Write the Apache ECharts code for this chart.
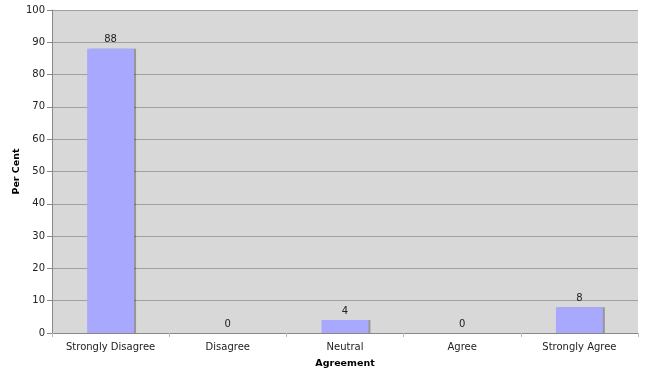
<!DOCTYPE html>
<html><head><meta charset="utf-8">
<script src="https://cdn.jsdelivr.net/npm/echarts@6/dist/echarts.min.js"></script>
<style>html,body{margin:0;padding:0;background:#fff}#c{width:648px;height:373px}</style>
</head><body><div id="c"></div>
<script>
const categories = ["Strongly Disagree", "Disagree", "Neutral", "Agree", "Strongly Agree"];
const values = [88, 0, 4, 0, 8];
const yTicks = { min: 0, max: 100, interval: 10 };
const chart = echarts.init(document.getElementById('c'));
const font = 'DejaVu Sans, Verdana, sans-serif';
chart.setOption({
  animation: false,
  grid: { left: 52, right: 10, top: 10, bottom: 40, backgroundColor: '#d8d8d8', show: true, borderWidth: 0, containLabel: false, outerBoundsMode: 'none' },
  xAxis: {
    type: 'category', data: categories,
    name: 'Agreement', nameLocation: 'middle', nameGap: 26, nameMoveOverlap: false,
    nameTextStyle: { fontFamily: font, fontSize: 9.5, fontWeight: 'bold', color: '#000' },
    axisLine: { lineStyle: { color: '#888', width: 1 } },
    axisTick: { show: true, alignWithLabel: false, length: 4, lineStyle: { color: '#bbb' } },
    axisLabel: { fontFamily: font, fontSize: 10, color: '#222', margin: 9 }
  },
  yAxis: {
    type: 'value', min: yTicks.min, max: yTicks.max, interval: yTicks.interval,
    name: 'Per Cent', nameLocation: 'middle', nameGap: 30, nameMoveOverlap: false,
    nameTextStyle: { fontFamily: font, fontSize: 9.5, fontWeight: 'bold', color: '#000' },
    axisLine: { show: true, lineStyle: { color: '#888', width: 1 } },
    axisTick: { show: true, length: 5, lineStyle: { color: '#888' } },
    axisLabel: { fontFamily: font, fontSize: 10, color: '#222', margin: 7 },
    splitLine: { lineStyle: { color: '#a0a0a0', width: 1 } }
  },
  series: [{
    type: 'bar', data: values, barWidth: '40%',
    itemStyle: { color: '#a8a8ff', shadowColor: 'rgba(0,0,0,0.3)', shadowOffsetX: 2, shadowOffsetY: 0, shadowBlur: 0 },
    label: { show: true, position: 'top', fontFamily: font, fontSize: 10, color: '#222', distance: 4 }
  }]
});
</script></body></html>
